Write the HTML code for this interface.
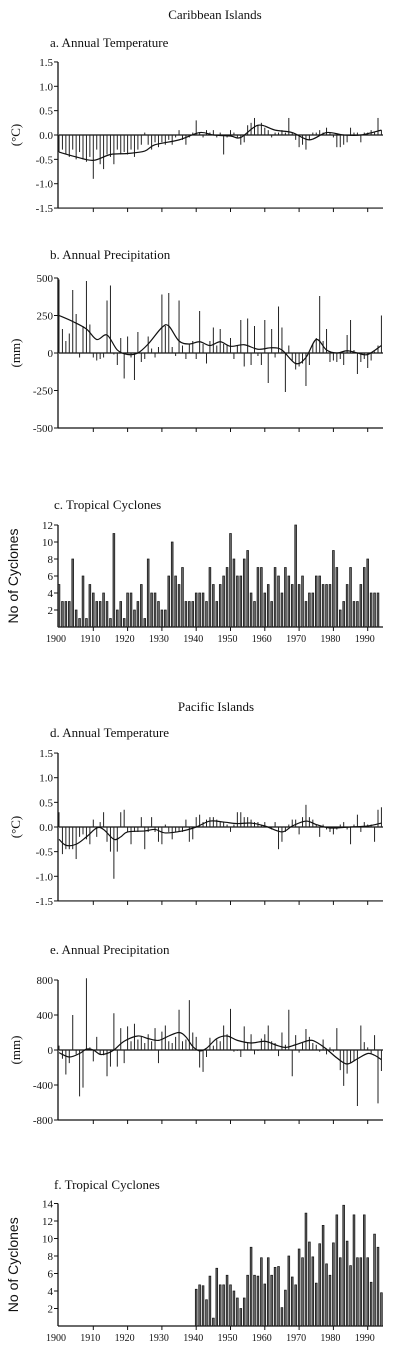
<!DOCTYPE html>
<html><head><meta charset="utf-8"><style>
html,body{margin:0;padding:0;background:#fff;}
svg{display:block;}
text{font-family:"Liberation Serif",serif;fill:#111;}
</style></head>
<body>
<svg id="chart" width="400" height="1356" viewBox="0 0 400 1356" xmlns="http://www.w3.org/2000/svg"></svg>
<script>
// ---- data ----
const yearsAll = Array.from({length:95},(_,i)=>1900+i);
const tempCarib = [-0.35,-0.3,-0.4,-0.45,-0.3,-0.5,-0.35,-0.5,-0.55,-0.45,
 -0.9,-0.3,-0.6,-0.7,-0.4,-0.45,-0.6,-0.3,-0.4,-0.35,
 -0.4,-0.3,-0.45,-0.3,-0.2,0.05,-0.2,-0.3,-0.15,-0.25,
 -0.15,-0.2,-0.1,-0.2,-0.05,0.1,-0.1,-0.2,-0.05,0.05,
 0.3,0.05,-0.05,0.1,0.05,0.1,-0.05,0.05,-0.4,-0.05,
 0.1,0.05,-0.05,-0.2,-0.15,0.2,0.25,0.35,0.2,0.25,
 0.15,0.1,-0.05,0.05,0.05,0.1,0.05,0.35,0.05,-0.1,
 -0.25,-0.2,-0.3,-0.1,0.05,0.05,0.1,0.05,0.15,0.05,
 -0.05,-0.25,-0.25,-0.2,-0.15,0.15,0.05,0.05,-0.15,0.05,
 0.05,0.1,0.05,0.35,0.1];
const tempCaribSmoothYears = [1900,1905,1910,1915,1920,1925,1928,1935,1941,1945,1950,1953,1958,1963,1968,1973,1978,1983,1988,1994];
const tempCaribSmooth = [-0.35,-0.45,-0.52,-0.4,-0.38,-0.33,-0.2,-0.1,0.05,0.0,-0.02,-0.05,0.2,0.1,0.05,-0.1,0.05,0.0,0.0,0.1];

const precCarib = [490,160,80,130,420,260,-30,180,480,190,
 -30,-50,-40,-30,350,450,-10,-80,100,-170,
 110,-30,-180,140,-60,-40,110,30,-30,40,
 390,180,400,40,-20,350,50,-40,60,80,
 -40,280,60,-70,80,170,50,160,60,50,
 100,-40,50,220,-90,230,-80,180,-20,-80,
 220,-200,160,-30,310,170,-260,50,-50,-110,
 -90,-70,-220,-80,60,100,380,80,160,-60,
 -50,-60,-40,-80,120,220,20,-140,-60,-40,
 -100,-50,10,50,250];
const precCaribSmoothYears = [1900,1904,1908,1911,1914,1917,1920,1923,1926,1930,1932,1935,1938,1941,1944,1947,1950,1954,1958,1962,1965,1969,1972,1975,1978,1981,1984,1987,1990,1994];
const precCaribSmooth = [250,210,160,90,120,20,-10,0,60,170,180,80,60,75,50,75,45,55,25,35,20,-70,-30,90,20,0,15,0,-10,50];

const cycYearsCarib = Array.from({length:94},(_,i)=>1900+i);
const cycCarib = [5,3,3,3,8,2,1,6,1,5,4,3,3,4,3,1,11,2,3,1,
 4,4,2,3,5,1,8,4,4,3,2,2,6,10,6,5,7,3,3,3,
 4,4,4,3,7,5,3,5,6,7,11,8,6,6,8,9,4,3,7,7,
 4,5,3,7,6,4,7,6,5,12,5,6,3,4,4,6,6,5,5,5,
 9,7,2,3,5,7,3,3,5,7,8,4,4,4];

const tempPac = [0.3,-0.55,-0.45,-0.45,-0.45,-0.65,-0.2,-0.15,-0.25,-0.35,
 0.15,-0.2,0.1,0.3,-0.3,-0.5,-1.05,-0.5,0.3,0.35,
 -0.1,-0.35,-0.1,-0.1,0.2,-0.45,-0.1,0.2,-0.1,-0.3,
 -0.35,0.05,-0.1,-0.25,-0.1,-0.1,-0.1,0.15,-0.3,-0.25,
 0.2,0.25,0.1,0.15,0.2,0.2,0.15,0.1,0.1,0.05,
 -0.1,0.05,0.3,0.3,0.2,0.2,0.15,0.1,0.1,0.05,
 0.1,0.0,-0.05,0.1,-0.45,-0.3,-0.1,0.05,0.15,0.15,
 -0.15,0.2,0.45,0.2,0.15,0.05,-0.2,0.05,-0.05,-0.1,
 -0.15,-0.05,0.05,0.1,-0.05,-0.35,0.05,0.25,-0.1,0.1,
 0.05,0.05,-0.3,0.35,0.4];
const tempPacSmoothYears = [1900,1902,1905,1908,1911,1913,1916,1918,1920,1925,1928,1931,1936,1940,1944,1948,1952,1956,1960,1965,1968,1972,1975,1979,1985,1990,1994];
const tempPacSmooth = [-0.25,-0.37,-0.35,-0.2,-0.02,-0.05,-0.25,-0.2,-0.1,-0.08,-0.05,-0.12,-0.08,0.0,0.12,0.1,0.07,0.08,0.02,-0.1,0.02,0.12,0.05,-0.02,0.0,0.02,0.08];

const precPac = [50,-100,-280,-150,400,-50,-530,-430,820,30,
 -130,150,-50,-60,-300,-190,420,-190,250,-150,
 270,100,300,120,150,80,180,100,250,-150,
 210,280,100,80,150,460,100,120,570,200,
 150,-200,-250,-80,140,50,120,100,280,180,
 470,-20,-10,-80,270,80,180,-50,-10,130,
 180,280,100,80,-70,200,60,460,-300,170,
 -30,80,240,150,80,60,-20,120,-50,30,
 -20,250,-230,-410,-270,-150,-130,-640,280,90,
 30,-50,170,-610,-240];
const precPacSmoothYears = [1900,1903,1906,1908,1910,1912,1914,1916,1919,1923,1926,1929,1932,1935,1937,1939,1941,1943,1946,1949,1952,1956,1960,1963,1966,1969,1973,1975,1978,1981,1984,1987,1990,1992,1994];
const precPacSmooth = [-30,-80,-40,10,0,-50,-40,0,100,160,130,110,160,200,150,40,-10,20,130,160,110,80,100,60,30,60,110,90,10,-90,-160,-100,-40,-60,-110];

const cycYearsPac = Array.from({length:55},(_,i)=>1940+i);
const cycPac = [4.2,4.7,4.6,3,5.7,0.9,6.6,4.7,4.7,5.8,
 4.7,4,3.2,2,3.2,5.8,9,5.8,5.7,7.8,
 4.8,7.8,5.8,6.7,6.8,2.1,4.1,8,5.6,4.7,
 8.8,7.8,12.9,9.6,7.9,4.9,9.4,11.5,7.1,5.8,
 9.5,12.7,7.8,13.8,9.7,6.9,12.7,7.8,7.8,12.7,
 7.8,5,10.5,9,3.8];

const decadeTicks = [1900,1910,1920,1930,1940,1950,1960,1970,1980,1990];
const tempTicks = [1.5,1.0,0.5,0.0,-0.5,-1.0,-1.5];
const tempTickLabels = ["1.5","1.0","0.5","0.0","-0.5","-1.0","-1.5"];
const precCaribTicks = [500,250,0,-250,-500];
const precPacTicks = [800,400,0,-400,-800];
const cycCaribTicks = [2,4,6,8,10,12];
const cycPacTicks = [2,4,6,8,10,12,14];

// ---- drawing ----
const svg = document.getElementById('chart');
const NS = 'http://www.w3.org/2000/svg';
function mk(tag, attrs, parent){const e=document.createElementNS(NS,tag);for(const k in attrs)e.setAttribute(k,attrs[k]);(parent||svg).appendChild(e);return e;}
const X0=59, XS=3.43, XEND=383;
function xOf(yr){return X0+XS*(yr-1900);}

function txt(s,x,y,size,anchor,name,parent,extra){
  const t=mk('text',Object.assign({x:x,y:y,'font-size':size,'text-anchor':anchor||'start'},extra||{}),parent);
  t.textContent=s;
  
  
  return t;
}

function axisY(g, yOf, ticks, labels, name){
  const ax=mk('line',{x1:X0-1,x2:X0-1,y1:yOf(ticks[0]),y2:yOf(ticks[ticks.length-1]),stroke:'#111','stroke-width':1.3},g);
  
  
  ticks.forEach((v,i)=>{
    mk('line',{x1:X0-5,x2:X0-1,y1:yOf(v),y2:yOf(v),stroke:'#111','stroke-width':1},g);
    txt(labels[i],X0-6,yOf(v)+4,11,'end',name+'-y-tick-label',g);
  });
}
function axisX(g, y, name, withLabels){
  const ax=mk('line',{x1:X0-1,x2:XEND,y1:y,y2:y,stroke:'#111','stroke-width':1.2},g);
  
  
  decadeTicks.forEach(d=>{
    if(d===1900) return;
    mk('line',{x1:xOf(d),x2:xOf(d),y1:y,y2:y+4,stroke:'#111','stroke-width':1},g);
  });
  if(withLabels){
    decadeTicks.forEach(d=>{
      txt(String(d),xOf(d)-3,y+15,10,'middle',name+'-x-tick-label',g);
    });
  }
}
function anomalyPanel(opts){
  const g=mk('g',{});
  
  
  const yOf=v=>opts.y0 - v*opts.k;
  txt(opts.title,50,opts.titleY,13,'start',opts.name+'-title',g);
  txt(opts.unit,0,0,13,'middle',opts.name+'-y-axis-title',g,{transform:'translate(20,'+yOf(0)+') rotate(-90)'});
  axisY(g,yOf,opts.ticks,opts.labels,opts.name);
  axisX(g,yOf(opts.ticks[opts.ticks.length-1]),opts.name,false);
  mk('line',{x1:X0,x2:XEND,y1:yOf(0),y2:yOf(0),stroke:'#111','stroke-width':1.2},g);
  opts.values.forEach((v,i)=>{
    const b=mk('line',{x1:xOf(yearsAll[i]),x2:xOf(yearsAll[i]),y1:yOf(0),y2:yOf(v),stroke:'#222','stroke-width':1},g);
    
    
  });
  // smooth curve (Catmull-Rom)
  const pts=opts.sy.map((yr,i)=>[xOf(yr),yOf(opts.sv[i])]);
  let d='M'+pts[0][0]+','+pts[0][1];
  for(let i=0;i<pts.length-1;i++){
    const p0=pts[Math.max(0,i-1)],p1=pts[i],p2=pts[i+1],p3=pts[Math.min(pts.length-1,i+2)];
    const c1=[p1[0]+(p2[0]-p0[0])/6,p1[1]+(p2[1]-p0[1])/6];
    const c2=[p2[0]-(p3[0]-p1[0])/6,p2[1]-(p3[1]-p1[1])/6];
    d+=' C'+c1[0]+','+c1[1]+' '+c2[0]+','+c2[1]+' '+p2[0]+','+p2[1];
  }
  const sm=mk('path',{d:d,fill:'none',stroke:'#111','stroke-width':1.2},g);
  
  
}
function cyclonePanel(opts){
  const g=mk('g',{});
  
  
  const yOf=v=>opts.y0 - v*opts.k;
  txt(opts.title,54,opts.titleY,13,'start',opts.name+'-title',g);
  txt('No of Cyclones',0,0,14,'middle',opts.name+'-y-axis-title',g,{transform:'translate(18,'+yOf(opts.ticks[opts.ticks.length-1]/2)+') rotate(-90)',style:'font-family:"Liberation Sans",sans-serif'});
  const ax=mk('line',{x1:X0-1,x2:X0-1,y1:yOf(0),y2:yOf(opts.ticks[opts.ticks.length-1]),stroke:'#111','stroke-width':1.3},g);
  
  
  opts.ticks.forEach(v=>{
    mk('line',{x1:X0-5,x2:X0-1,y1:yOf(v),y2:yOf(v),stroke:'#111','stroke-width':1},g);
    txt(String(v),X0-6,yOf(v)+4,11,'end',opts.name+'-y-tick-label',g);
  });
  axisX(g,yOf(0),opts.name,true);
  opts.values.forEach((v,i)=>{
    const x=xOf(opts.years[i]);
    const b=mk('rect',{x:x-0.9,y:yOf(v),width:1.8,height:v*opts.k,fill:'#666',stroke:'#111','stroke-width':0.7},g);
    
    
  });
}

txt('Caribbean Islands',215,19,13,'middle','caribbean-heading');
anomalyPanel({name:'carib-temperature',title:'a. Annual Temperature',titleY:47,unit:'(°C)',y0:135,k:48.7,ticks:tempTicks,labels:tempTickLabels,values:tempCarib,sy:tempCaribSmoothYears,sv:tempCaribSmooth});
anomalyPanel({name:'carib-precipitation',title:'b. Annual Precipitation',titleY:259,unit:'(mm)',y0:353,k:0.15,ticks:precCaribTicks,labels:precCaribTicks.map(String),values:precCarib,sy:precCaribSmoothYears,sv:precCaribSmooth});
cyclonePanel({name:'carib-cyclones',title:'c. Tropical Cyclones',titleY:509,y0:627,k:8.5,ticks:cycCaribTicks,values:cycCarib,years:cycYearsCarib});
txt('Pacific Islands',216,711,13,'middle','pacific-heading');
anomalyPanel({name:'pacific-temperature',title:'d. Annual Temperature',titleY:737,unit:'(°C)',y0:827,k:49.3,ticks:tempTicks,labels:tempTickLabels,values:tempPac,sy:tempPacSmoothYears,sv:tempPacSmooth});
anomalyPanel({name:'pacific-precipitation',title:'e. Annual Precipitation',titleY:954,unit:'(mm)',y0:1050,k:0.0875,ticks:precPacTicks,labels:precPacTicks.map(String),values:precPac,sy:precPacSmoothYears,sv:precPacSmooth});
cyclonePanel({name:'pacific-cyclones',title:'f. Tropical Cyclones',titleY:1189,y0:1326,k:8.75,ticks:cycPacTicks,values:cycPac,years:cycYearsPac});
</script>
</body></html>
